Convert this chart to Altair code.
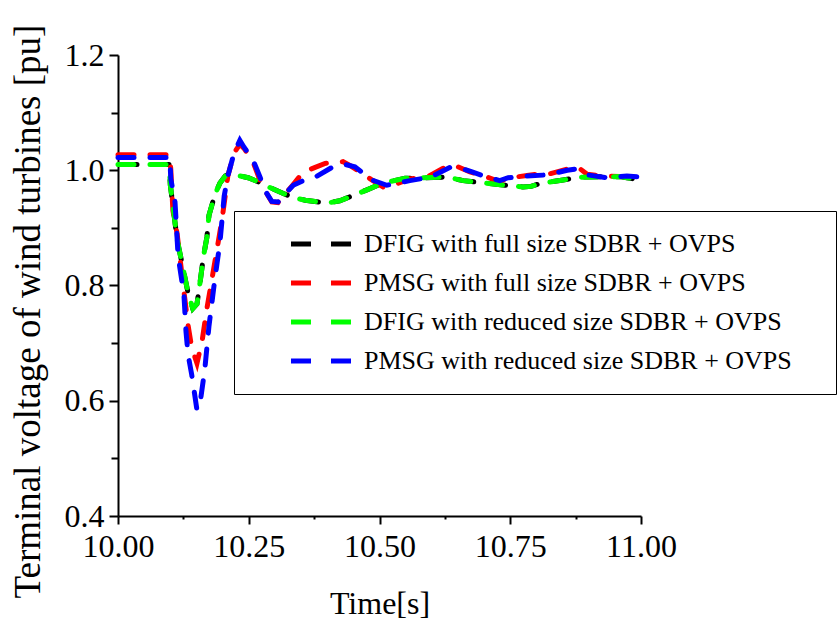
import altair as alt
import pandas as pd

series_names = [
    "DFIG with full size SDBR + OVPS",
    "PMSG with full size SDBR + OVPS",
    "DFIG with reduced size SDBR + OVPS",
    "PMSG with reduced size SDBR + OVPS",
]
series_colors = ["#000000", "#ff0000", "#00ff00", "#0000ff"]

# DFIG with full size SDBR + OVPS (black)
t_dfig_full = [10.000, 10.098, 10.100, 10.113, 10.134, 10.143, 10.151, 10.157, 10.163, 10.170,
               10.174, 10.185, 10.195, 10.205, 10.214, 10.249, 10.268, 10.281, 10.315, 10.338,
               10.358, 10.400, 10.424, 10.438, 10.476, 10.507, 10.549, 10.583, 10.621, 10.645,
               10.660, 10.698, 10.740, 10.774, 10.790, 10.807, 10.851, 10.883, 10.960, 10.973, 11.000]
v_dfig_full = [1.010, 1.010, 0.975, 0.880, 0.787, 0.760, 0.768, 0.806, 0.848, 0.884,
               0.922, 0.957, 0.978, 0.990, 0.994, 0.987, 0.980, 0.974, 0.960, 0.952,
               0.948, 0.943, 0.947, 0.952, 0.966, 0.978, 0.986, 0.987, 0.988, 0.985,
               0.982, 0.978, 0.974, 0.971, 0.972, 0.977, 0.983, 0.988, 0.989, 0.987, 0.983]

# PMSG with full size SDBR + OVPS (red)
t_pmsg_full = [10.000, 10.099, 10.101, 10.105, 10.113, 10.126, 10.134, 10.141, 10.151, 10.161,
               10.170, 10.185, 10.199, 10.210, 10.222, 10.233, 10.241, 10.258, 10.275, 10.294,
               10.306, 10.335, 10.354, 10.377, 10.396, 10.430, 10.444, 10.486, 10.507, 10.520,
               10.558, 10.591, 10.631, 10.650, 10.673, 10.706, 10.730, 10.744, 10.782, 10.807,
               10.822, 10.859, 10.880, 10.897, 10.925, 11.000]
v_pmsg_full = [1.027, 1.027, 1.000, 0.930, 0.890, 0.790, 0.731, 0.692, 0.665, 0.705,
               0.760, 0.840, 0.915, 0.990, 1.030, 1.045, 1.038, 1.015, 0.974, 0.945,
               0.944, 0.975, 0.997, 1.005, 1.012, 1.015, 1.008, 0.983, 0.971, 0.972,
               0.985, 0.988, 1.008, 1.006, 0.997, 0.988, 0.980, 0.986, 0.991, 0.994,
               0.993, 1.002, 1.005, 0.993, 0.990, 0.988]

# DFIG with reduced size SDBR + OVPS (green)
t_dfig_red = [10.000, 10.098, 10.100, 10.113, 10.134, 10.143, 10.151, 10.157, 10.163, 10.170,
              10.174, 10.185, 10.195, 10.205, 10.214, 10.249, 10.268, 10.281, 10.315, 10.338,
              10.358, 10.400, 10.424, 10.438, 10.476, 10.507, 10.549, 10.583, 10.621, 10.645,
              10.660, 10.698, 10.740, 10.774, 10.790, 10.807, 10.851, 10.883, 10.960, 10.973, 11.000]
v_dfig_red = [1.010, 1.010, 0.975, 0.880, 0.787, 0.760, 0.768, 0.806, 0.848, 0.884,
              0.922, 0.957, 0.978, 0.990, 0.994, 0.987, 0.980, 0.974, 0.960, 0.952,
              0.948, 0.943, 0.947, 0.952, 0.966, 0.978, 0.986, 0.987, 0.988, 0.985,
              0.982, 0.978, 0.974, 0.971, 0.972, 0.977, 0.983, 0.988, 0.989, 0.987, 0.983]

# PMSG with reduced size SDBR + OVPS (blue)
t_pmsg_red = [10.000, 10.099, 10.101, 10.109, 10.115, 10.126, 10.130, 10.134, 10.141, 10.151,
              10.157, 10.166, 10.174, 10.185, 10.195, 10.203, 10.210, 10.222, 10.233, 10.241,
              10.258, 10.272, 10.281, 10.294, 10.306, 10.335, 10.354, 10.377, 10.411, 10.434,
              10.453, 10.486, 10.514, 10.558, 10.597, 10.635, 10.654, 10.677, 10.706, 10.730,
              10.746, 10.782, 10.822, 10.859, 10.874, 10.897, 10.935, 10.973, 11.000]
v_pmsg_red = [1.022, 1.022, 0.985, 0.945, 0.850, 0.785, 0.720, 0.680, 0.645, 0.584,
              0.596, 0.655, 0.730, 0.810, 0.875, 0.955, 0.990, 1.030, 1.052, 1.040,
              1.018, 0.987, 0.965, 0.946, 0.945, 0.974, 0.982, 0.988, 1.006, 1.010,
              1.006, 0.983, 0.974, 0.982, 0.988, 1.005, 1.004, 0.997, 0.988, 0.982,
              0.987, 0.990, 0.992, 1.000, 1.002, 0.992, 0.987, 0.990, 0.988]

x_tick_values = [10.0, 10.125, 10.25, 10.375, 10.5, 10.625, 10.75, 10.875, 11.0]
y_tick_values = [0.4, 0.5, 0.6, 0.7, 0.8, 0.9, 1.0, 1.1, 1.2]

all_t = [t_dfig_full, t_pmsg_full, t_dfig_red, t_pmsg_red]
all_v = [v_dfig_full, v_pmsg_full, v_dfig_red, v_pmsg_red]
rows = []
for name, ts, vs in zip(series_names, all_t, all_v):
    for i, (t, v) in enumerate(zip(ts, vs)):
        rows.append({"series": name, "t": t, "v": v, "i": i})
df = pd.DataFrame(rows)

FONT = "Liberation Serif"

x_axis = alt.Axis(
    values=x_tick_values,
    labelExpr="abs(datum.value*4 - round(datum.value*4)) < 0.001 ? format(datum.value, '.2f') : ''",
    tickSize={"condition": {"test": "abs(datum.value*4 - round(datum.value*4)) < 0.001", "value": 8}, "value": 3},
    labelPadding=7, labelFont=FONT, labelFontSize=32,
    title="Time[s]", titleBaseline="alphabetic", titleY=97, titleFontSize=32,
)
y_axis = alt.Axis(
    values=y_tick_values,
    labelExpr="abs(datum.value*5 - round(datum.value*5)) < 0.001 ? format(datum.value, '.1f') : ''",
    tickSize={"condition": {"test": "abs(datum.value*5 - round(datum.value*5)) < 0.001", "value": 9}, "value": 7},
    labelPadding=5, labelFont=FONT, labelFontSize=32,
    title="Terminal voltage of wind turbines [pu]", titleFontSize=37,
    titleAngle=270, titleAlign="left", titleBaseline="middle", titleX=-90, titleY=543,
)

legend = alt.Legend(
    orient="none", legendX=116, legendY=156,
    title=" ", titleOrient="right", titleFontSize=2, titlePadding=24, titleColor="white",
    symbolType="M-3,0H-1M1,0H3", symbolSize=400, symbolStrokeWidth=5, symbolDash=[100, 0],
    padding=20, strokeColor="black", fillColor="white", rowPadding=13,
    symbolOffset=54, labelOffset=30, labelFont=FONT, labelFontSize=26,
)

base = alt.Chart(df).encode(
    x=alt.X("t:Q", scale=alt.Scale(domain=[10, 11], nice=False, zero=False), axis=x_axis),
    y=alt.Y("v:Q", scale=alt.Scale(domain=[0.4, 1.2], nice=False, zero=False), axis=y_axis),
    color=alt.Color("series:N", scale=alt.Scale(domain=series_names, range=series_colors), legend=legend),
    order="i:Q",
)

black = base.transform_filter(alt.datum.series == series_names[0]).mark_line(
    strokeWidth=5, strokeDash=[16, 16], strokeCap="round", strokeDashOffset=29
)
others = base.transform_filter(alt.datum.series != series_names[0]).mark_line(
    strokeWidth=5, strokeDash=[16, 16], strokeCap="round"
)

chart = alt.layer(black, others).properties(
    width=523, height=461,
    padding={"left": 118, "top": 55, "right": 198, "bottom": 106},
    autosize=alt.AutoSizeParams(type="none"),
    background="white",
).configure_view(
    stroke=None
).configure_axis(
    grid=False, domainColor="black", domainWidth=2, tickColor="black", tickWidth=2,
    labelFont=FONT, labelFontSize=32, labelColor="black", labelFlush=False,
    titleFont=FONT, titleFontWeight="normal", titleColor="black",
).configure_legend(
    labelFont=FONT, labelFontSize=26, labelColor="black", labelLimit=1000,
)

chart.save("out.html", embed_options={"renderer": "svg", "actions": False})
